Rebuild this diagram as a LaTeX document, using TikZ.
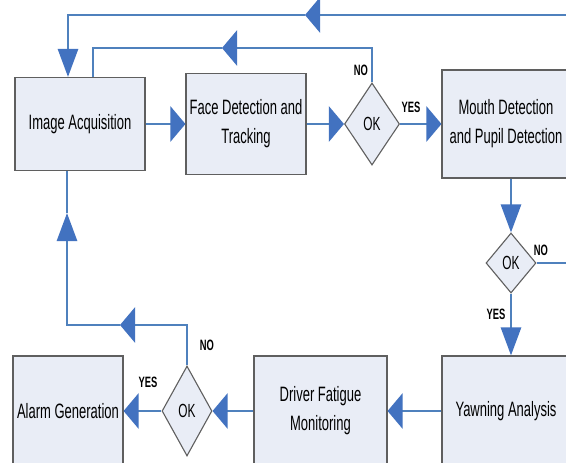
\documentclass[tikz,border=0pt]{standalone}
\usepackage{fontspec}
\usetikzlibrary{arrows.meta,shapes.geometric}
\newfontfamily\nfont[FakeStretch=0.625]{Liberation Sans}
\definecolor{lb}{RGB}{79,129,189}
\definecolor{ab}{RGB}{66,114,192}
\definecolor{bf}{RGB}{233,237,246}
\definecolor{bd}{RGB}{95,95,95}
\begin{document}
\begin{tikzpicture}[x=1pt,y=-1pt,
 box/.style={draw=bd, line width=1.1pt, fill=bf, inner sep=0pt, align=center,
   font=\nfont\fontsize{20.8}{29}\selectfont},
 dia/.style={diamond, draw=bd, line width=1.1pt, fill=bf, inner sep=0pt,
   font=\nfont\fontsize{19}{22}\selectfont},
 lbl/.style={font=\nfont\bfseries\fontsize{15}{16}\selectfont, inner sep=0pt},
 ln/.style={draw=lb, line width=2.7pt},
 ha/.style={ln, -{Triangle[length=15pt,width=35pt,color=ab]}},
 va/.style={ln, -{Triangle[length=28pt,width=20pt,color=ab]}},
]
\useasboundingbox[fill=white] (0,0) rectangle (566,463);

% boxes and decisions
\node[box, minimum width=130pt, minimum height=93pt] (ia) at (80,124) {Image Acquisition};
\node[box, minimum width=120pt, minimum height=101pt] (fd) at (246,124) {Face Detection and\\Tracking};
\node[dia, minimum width=55pt, minimum height=82pt] (d1) at (372,124) {OK};
\node[box, minimum width=128pt, minimum height=108pt] (md) at (506,124) {Mouth Detection\\and Pupil Detection};
\node[dia, minimum width=50pt, minimum height=60pt] (d2) at (511,263) {OK};
\node[box, minimum width=128pt, minimum height=110pt] (ya) at (506,411) {Yawning Analysis};
\node[box, minimum width=133pt, minimum height=110pt] (df) at (320.5,411) {Driver Fatigue\\Monitoring};
\node[dia, minimum width=50pt, minimum height=90pt] (d3) at (187,411) {OK};
\node[box, minimum width=110pt, minimum height=110pt] (ag) at (68,411) {Alarm Generation};

% labels
\node[lbl] (no1) at (361,70) {NO};
\node[lbl] (yes1) at (411,107) {YES};
\node[lbl] (no2) at (541,250) {NO};
\node[lbl] (yes2) at (496,314) {YES};
\node[lbl] (no3) at (207,345) {NO};
\node[lbl] (yes3) at (148,382) {YES};

% free-end coordinates
\coordinate (e2) at (575,263);
\coordinate (t1) at (575,15);
\coordinate (t2) at (305,15);
\coordinate (t3) at (68,15);
\coordinate (i1) at (222,48);
\coordinate (i2) at (93,48);
\coordinate (b1) at (120,325);
\coordinate (b2) at (67,325);
\coordinate (b3) at (67,213);

% main flow
\draw[ha] (ia.east) -- (fd.west);
\draw[ha] (fd.east) -- (d1.west);
\draw[ha] (d1.east) -- (md.west);
\draw[va] (d2.north |- md.south) -- (d2.north);
\draw[va] (d2.south) -- (d2.south |- ya.north);
\draw[ha] (ya.west |- df.east) -- (df.east);
\draw[ha] (df.west) -- (d3.east);
\draw[ha] (d3.west) -- (ag.east);

% feedback loops
\draw[ln] (d2.east) -- (e2);
\draw[ha] (t1) -- (t2);
\draw[va] (t2) -- (t3) -- (t3 |- ia.north);
\draw[ha] (d1.north) |- (i1);
\draw[ln] (i1) -- (i2) -- (i2 |- ia.north);
\draw[ha] (d3.north) |- (b1);
\draw[va] (b1) -- (b2) -- (b3);
\draw[ln] (b3) -- (b3 |- ia.south);
\end{tikzpicture}
\end{document}
